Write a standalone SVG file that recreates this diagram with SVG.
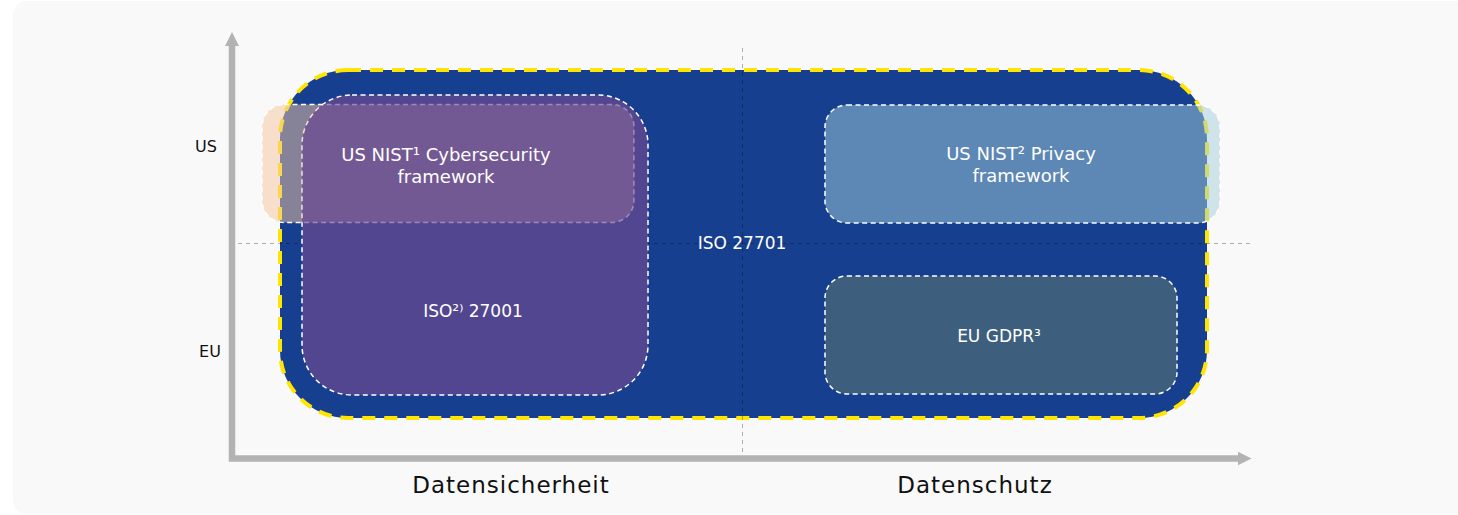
<svg xmlns="http://www.w3.org/2000/svg" width="1458" height="515" viewBox="0 0 1458 515">
<style>
.lbl{font-family:"DejaVu Sans","Liberation Sans",sans-serif;font-size:18px;fill:#ffffff;text-anchor:middle}
.sm{font-size:17px}
.ax{font-family:"DejaVu Sans","Liberation Sans",sans-serif;fill:#111111;text-anchor:middle}
.axk{font-size:16px}
.axt{font-size:23px;letter-spacing:1px}
.wd{fill:none;stroke:#ffffff;stroke-width:1.5;stroke-dasharray:5 3.5}
.grid{fill:none;stroke:#000000;stroke-opacity:0.3;stroke-width:1;stroke-dasharray:4 4}
.axis{fill:none;stroke:#b3b3b3;stroke-width:6.5;stroke-linejoin:miter}
</style>
<defs>
<marker id="arr" markerUnits="userSpaceOnUse" markerWidth="14" markerHeight="14" viewBox="0 0 14 14" refX="0.5" refY="7" orient="auto-start-reverse">
<path d="M0,0 L14,7 L0,14 Z" fill="#b3b3b3"/>
</marker>
<mask id="notIso" maskUnits="userSpaceOnUse" x="0" y="0" width="1458" height="515">
<rect x="0" y="0" width="1458" height="515" fill="#ffffff"/>
<rect x="302" y="95" width="346" height="300" rx="50" fill="#000000"/>
</mask>
<clipPath id="isoClip"><rect x="302" y="95" width="346" height="300" rx="50"/></clipPath>
</defs>

<rect x="0" y="0" width="1458" height="515" fill="#ffffff"/>
<rect x="13" y="1" width="1470" height="513" rx="14" fill="#f9f9f9"/>

<g id="connectors">
<path class="axis" d="M232,45.5 V458.5 H1238" marker-start="url(#arr)" marker-end="url(#arr)"/>
</g>

<g id="node-iso27701">
<rect x="280" y="70" width="927" height="348" rx="68" fill="#173f8f"/>
<rect x="280" y="70" width="927" height="348" rx="68" fill="none" stroke="#ffe500" stroke-width="4" stroke-dasharray="13 9"/>
</g>

<g id="grid">
<line class="grid" x1="742.5" y1="48" x2="742.5" y2="455"/>
<line class="grid" x1="238" y1="243.5" x2="1253" y2="243.5"/>
</g>

<g id="node-iso27001">
<rect x="302" y="95" width="346" height="300" rx="50" fill="#524691"/>
<rect class="wd" x="302" y="95" width="346" height="300" rx="50"/>
<text class="lbl sm" x="473" y="317">ISO²⁾ 27001</text>
</g>

<g id="node-nist-csf">
<rect x="262" y="104.5" width="372" height="118" rx="22" fill="#f5c59f" fill-opacity="0.5" mask="url(#notIso)"/>
<rect x="262" y="104.5" width="372" height="118" rx="22" fill="#c08899" fill-opacity="0.3" clip-path="url(#isoClip)"/>
<rect class="wd" x="262" y="104.5" width="372" height="118" rx="22" mask="url(#notIso)"/>
<rect class="wd" x="262" y="104.5" width="372" height="118" rx="22" stroke-opacity="0.35" clip-path="url(#isoClip)"/>
<text class="lbl" x="446" y="161">US NIST¹ Cybersecurity</text>
<text class="lbl" x="446" y="183">framework</text>
</g>

<g id="node-nist-pf">
<rect x="825" y="105" width="395" height="118" rx="22" fill="#a3cfdb" fill-opacity="0.5"/>
<rect class="wd" x="825" y="105" width="395" height="118" rx="22"/>
<text class="lbl" x="1021" y="160">US NIST² Privacy</text>
<text class="lbl" x="1021" y="182">framework</text>
</g>

<g id="node-gdpr">
<rect x="825" y="276" width="352" height="118" rx="22" fill="#3d5f7d"/>
<rect class="wd" x="825" y="276" width="352" height="118" rx="22"/>
<text class="lbl sm" x="999" y="342">EU GDPR³</text>
</g>

<g id="label-iso27701">
<text class="lbl sm" x="742" y="249">ISO 27701</text>
</g>

<g id="axis-labels">
<text class="ax axk" x="206" y="152">US</text>
<text class="ax axk" x="210" y="357">EU</text>
<text class="ax axt" x="511" y="493">Datensicherheit</text>
<text class="ax axt" x="975" y="493">Datenschutz</text>
</g>
</svg>
